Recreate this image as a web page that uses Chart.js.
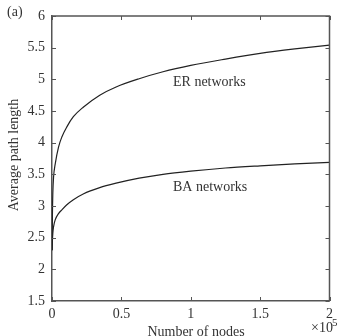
<!DOCTYPE html>
<html>
<head>
<meta charset="utf-8">
<script src="https://cdn.jsdelivr.net/npm/chart.js@4.4.1/dist/chart.umd.min.js"></script>
<style>
  html, body { margin: 0; padding: 0; background: #fff; }
  #wrap { width: 338px; height: 336px; position: relative; }
</style>
</head>
<body>
<div id="wrap"><canvas id="chart"></canvas></div>
<script>
// Number of nodes (x axis is in units of 1e5)
const nodes = [100, 300, 600, 1100, 2300, 4700, 7100, 10700, 15400, 22500, 34400,
               46200, 62800, 80000, 100000, 125000, 150000, 175000, 200000];
// Average path length, ER networks
const erLength = [2.3, 2.85, 3.2, 3.45, 3.66, 3.93, 4.09, 4.25, 4.41, 4.56, 4.75,
                  4.88, 5.01, 5.12, 5.22, 5.32, 5.41, 5.48, 5.54];
// Average path length, BA networks
const baLength = [2.3, 2.45, 2.57, 2.67, 2.78, 2.88, 2.94, 3.02, 3.10, 3.19, 3.29,
                  3.36, 3.44, 3.50, 3.55, 3.60, 3.635, 3.665, 3.69];

// Tick values and labels
const xTicks = [0, 50000, 100000, 150000, 200000];
const xTickLabels = ['0', '0.5', '1', '1.5', '2'];
const yTicks = [1.5, 2, 2.5, 3, 3.5, 4, 4.5, 5, 5.5, 6];
const yTickLabels = ['1.5', '2', '2.5', '3', '3.5', '4', '4.5', '5', '5.5', '6'];

const FONT = '"Liberation Serif", "Times New Roman", serif';
const TEXT_COLOR = '#333';
const AXIS_COLOR = '#555';

// Frame on top/right, inward ticks on all sides, and the free text
const framePlugin = {
    id: 'frame',
    afterDraw(chart) {
        const ctx = chart.ctx;
        const a = chart.chartArea;
        const xs = chart.scales.x;
        const ys = chart.scales.y;
        const len = 4;

        ctx.save();
        ctx.strokeStyle = AXIS_COLOR;
        ctx.lineWidth = 1.5;
        ctx.beginPath();
        ctx.moveTo(a.left, a.top);
        ctx.lineTo(a.right, a.top);
        ctx.lineTo(a.right, a.bottom);
        ctx.stroke();

        ctx.lineWidth = 1;
        ctx.beginPath();
        xTicks.forEach(v => {
            const px = Math.round(xs.getPixelForValue(v)) + 0.5;
            ctx.moveTo(px, a.bottom); ctx.lineTo(px, a.bottom - len);
            ctx.moveTo(px, a.top); ctx.lineTo(px, a.top + len);
        });
        yTicks.forEach(v => {
            const py = Math.round(ys.getPixelForValue(v)) + 0.5;
            ctx.moveTo(a.left, py); ctx.lineTo(a.left + len, py);
            ctx.moveTo(a.right, py); ctx.lineTo(a.right - len, py);
        });
        ctx.stroke();

        ctx.fillStyle = TEXT_COLOR;
        ctx.font = '14px ' + FONT;
        ctx.textBaseline = 'alphabetic';
        ctx.textAlign = 'left';
        ctx.fillText('ER networks', 173, 86);
        ctx.fillText('BA networks', 173, 191);
        ctx.fillText('(a)', 7, 16);

        // axis titles
        ctx.textAlign = 'center';
        ctx.fillText('Number of nodes', 196, 336);
        ctx.save();
        ctx.translate(18, 155);
        ctx.rotate(-Math.PI / 2);
        ctx.fillText('Average path length', 0, 0);
        ctx.restore();

        // exponent
        ctx.textAlign = 'left';
        ctx.font = '14px ' + FONT;
        ctx.fillText('\u00d710', 311, 332);
        ctx.font = '11px ' + FONT;
        ctx.fillText('5', 332, 326);
        ctx.restore();
    }
};

new Chart(document.getElementById('chart'), {
    type: 'line',
    data: {
        datasets: [{
            label: 'ER networks',
            data: nodes.map((n, i) => ({ x: n, y: erLength[i] })),
            borderColor: '#222',
            borderWidth: 1.2,
            pointRadius: 0,
            cubicInterpolationMode: 'monotone'
        }, {
            label: 'BA networks',
            data: nodes.map((n, i) => ({ x: n, y: baLength[i] })),
            borderColor: '#222',
            borderWidth: 1.2,
            pointRadius: 0,
            cubicInterpolationMode: 'monotone'
        }]
    },
    options: {
        responsive: true,
        maintainAspectRatio: false,
        animation: false,
        layout: { padding: { left: 0, top: 16, right: 4, bottom: 0 } },
        plugins: {
            legend: { display: false },
            tooltip: { enabled: false }
        },
        scales: {
            x: {
                type: 'linear',
                min: 0,
                max: 200000,
                afterBuildTicks: s => { s.ticks = xTicks.map(v => ({ value: v })); },
                afterFit: s => { s.height = 35; },
                grid: { display: false, drawTicks: false },
                border: { display: true, color: AXIS_COLOR, width: 1.5 },
                ticks: {
                    padding: 5,
                    color: TEXT_COLOR,
                    font: { family: FONT, size: 14 },
                    maxRotation: 0,
                    callback: (v, i) => xTickLabels[i]
                }
            },
            y: {
                min: 1.5,
                max: 6,
                afterBuildTicks: s => { s.ticks = yTicks.map(v => ({ value: v })); },
                afterFit: s => { s.width = 52; },
                grid: { display: false, drawTicks: false },
                border: { display: true, color: AXIS_COLOR, width: 1.5 },
                ticks: {
                    padding: 7,
                    color: TEXT_COLOR,
                    font: { family: FONT, size: 14 },
                    callback: (v, i) => yTickLabels[i]
                }
            }
        }
    },
    plugins: [framePlugin]
});
</script>
</body>
</html>
